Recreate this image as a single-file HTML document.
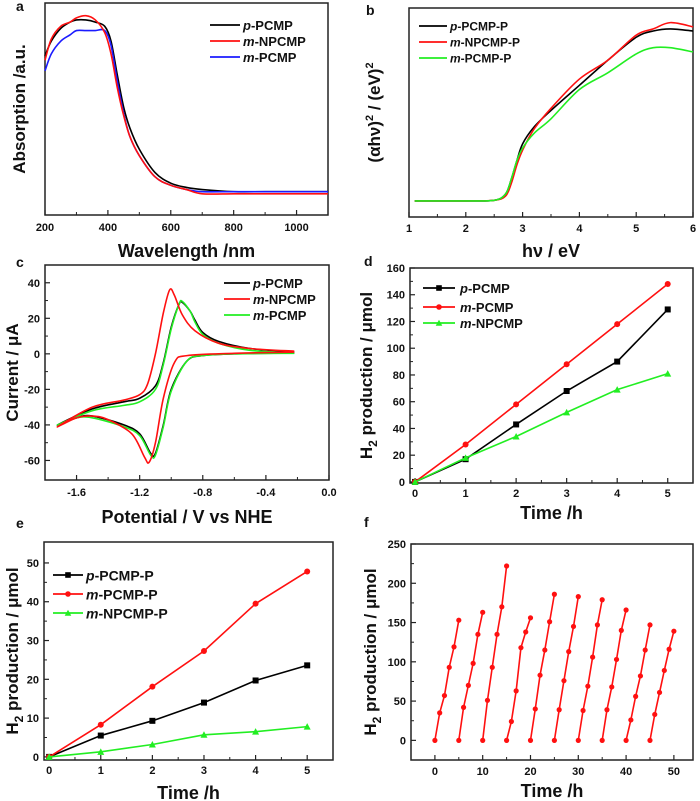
<!DOCTYPE html>
<html><head><meta charset="utf-8"><style>
body{margin:0;background:#fff;}
svg{display:block;font-family:"Liberation Sans",Arial,sans-serif;font-weight:bold;}
</style></head><body>
<svg id="fig" width="700" height="801" viewBox="0 0 700 801" xmlns="http://www.w3.org/2000/svg"></svg>
<script>
// ---- Panel a data
const aWave=[200,220,250,280,300,330,360,390,410,430,450,470,500,550,600,650,700,800,900,1000,1100];
const aBlack=[0.75,0.82,0.88,0.91,0.92,0.92,0.91,0.89,0.82,0.66,0.51,0.41,0.31,0.2,0.15,0.13,0.12,0.11,0.11,0.11,0.11];
const aRed=[0.73,0.83,0.89,0.91,0.93,0.94,0.92,0.86,0.76,0.6,0.47,0.37,0.28,0.18,0.14,0.12,0.1,0.1,0.1,0.1,0.1];
const aBlue=[0.68,0.76,0.82,0.85,0.87,0.87,0.87,0.87,0.8,0.63,0.48,0.37,0.28,0.18,0.14,0.12,0.11,0.11,0.11,0.11,0.11];
// ---- Panel b data
const bEnergy=[1.1,2.0,2.5,2.7,2.8,2.9,3.0,3.2,3.5,4.0,4.5,5.0,5.3,5.6,6.0];
const bBlack=[0.077,0.077,0.08,0.11,0.18,0.27,0.35,0.43,0.51,0.63,0.75,0.86,0.89,0.9,0.89];
const bRed=[0.077,0.077,0.08,0.1,0.16,0.25,0.32,0.42,0.52,0.66,0.75,0.87,0.9,0.93,0.91];
const bGreen=[0.077,0.077,0.08,0.11,0.18,0.27,0.33,0.4,0.47,0.61,0.69,0.78,0.81,0.81,0.79];
// ---- Panel c data (closed CV loops)
const cBlackV=[-0.22,-0.6,-0.8,-0.9,-1.0,-1.05,-1.1,-1.13,-1.2,-1.3,-1.5,-1.6,-1.72,-1.5,-1.3,-1.2,-1.1,-1.05,-1.0,-0.95,-0.93,-0.88,-0.85,-0.8,-0.7,-0.5,-0.22];
const cBlackI=[0.5,0,-1,-4,-20,-40,-56,-56,-45,-40,-35,-36,-40,-31,-27,-25,-18,-5,15,28,29,24,19,12,7,3,1];
const cGreenV=cBlackV;
const cGreenI=[0.3,0,-1,-4,-21,-41,-57,-57,-46,-41,-36,-36,-40,-32,-29,-27,-20,-6,14,28,29.5,24,18,11,6,2,0.5];
const cRedV=[-0.22,-0.6,-0.9,-0.98,-1.05,-1.1,-1.14,-1.17,-1.25,-1.4,-1.5,-1.6,-1.72,-1.5,-1.3,-1.2,-1.15,-1.1,-1.05,-1.01,-0.98,-0.93,-0.85,-0.7,-0.5,-0.22];
const cRedI=[1,0.3,-1,-5,-25,-50,-61,-58,-45,-37,-35,-36,-41,-30,-26,-23,-17,0,23,36,33,22,13,6,3,1.5];
// ---- Panel d data
const dTime=[0,1,2,3,4,5];
const dP=[0,17,43,68,90,129];
const dM=[0,28,58,88,118,148];
const dMN=[0,18,34,52,69,81];
// ---- Panel e data
const eTime=[0,1,2,3,4,5];
const eP=[0,5.5,9.3,14,19.7,23.6];
const eM=[0,8.3,18.1,27.3,39.5,47.8];
const eMN=[0,1.3,3.2,5.7,6.5,7.8];
// ---- Panel f data (10 cycles of 5 h)
const fCycleStart=[0,5,10,15,20,25,30,35,40,45];
const fCycles=[[0,35,57,93,119,153],[0,42,70,98,135,163],[0,51,93,135,170,222],[0,24,63,118,138,156],[0,40,83,115,151,186],[0,39,76,113,145,183],[0,38,69,106,147,179],[0,39,68,103,140,166],[0,26,56,82,115,147],[0,33,61,89,116,139]];

const NS="http://www.w3.org/2000/svg";
const svg=document.getElementById('fig');
function mk(tag,attrs,parent){const e=document.createElementNS(NS,tag);for(const k in attrs)e.setAttribute(k,attrs[k]);(parent||svg).appendChild(e);return e;}
function txt(s,x,y,size,anchor,parent){const t=mk('text',{x:x,y:y,'font-size':size,'text-anchor':anchor||'middle',fill:'#111'},parent);t.innerHTML=s;return t;}
function fmt(v){return (Math.round(v*10)/10).toString();}

function panel(o){
  const g=mk('g',{});
  
  
  const [L,T,R,B]=o.box;
  const X=v=>L+(v-o.x[0])/(o.x[1]-o.x[0])*(R-L);
  const Y=v=>B-(v-o.y[0])/(o.y[1]-o.y[0])*(B-T);
  const box=mk('rect',{x:L,y:T,width:R-L,height:B-T,fill:'none',stroke:'#222','stroke-width':1.5},g);
  
  
  if(o.xticks){o.xticks.forEach(v=>{mk('line',{x1:X(v),x2:X(v),y1:B,y2:B-5,stroke:'#222','stroke-width':1.2},g);
    const t=txt(o.xfmt?o.xfmt(v):fmt(v),X(v),o.xtly,11,'middle',g);
    
    });}
  if(o.xminor){o.xminor.forEach(v=>mk('line',{x1:X(v),x2:X(v),y1:B,y2:B-3,stroke:'#222'},g));}
  if(o.yticks){o.yticks.forEach(v=>{mk('line',{x1:L,x2:L+5,y1:Y(v),y2:Y(v),stroke:'#222','stroke-width':1.2},g);
    const t=txt(fmt(v),L-5,Y(v)+4,11,'end',g);
    
    });}
  if(o.yminor){o.yminor.forEach(v=>mk('line',{x1:L,x2:L+3,y1:Y(v),y2:Y(v),stroke:'#222'},g));}
  const xt=txt(o.xtitle,(L+R)/2,o.xtitleY,18,'middle',g);
  
  
  const yt=txt(o.ytitle,0,0,17,'middle',g);
  yt.setAttribute('transform',`translate(${o.ytitleX},${(T+B)/2}) rotate(-90)`);
  
  
  const lt=txt(o.letter,o.lx,o.ly,14,'start',g);
  
  
  return {g,X,Y};
}
function smoothPath(xs,ys,X,Y){
  const p=xs.map((x,i)=>[X(x),Y(ys[i])]);
  let d=`M${p[0][0]},${p[0][1]}`;
  for(let i=0;i<p.length-1;i++){
    const p0=p[i-1]||p[i],p1=p[i],p2=p[i+1],p3=p[i+2]||p2;
    const c1=[p1[0]+(p2[0]-p0[0])/6,p1[1]+(p2[1]-p0[1])/6];
    const c2=[p2[0]-(p3[0]-p1[0])/6,p2[1]-(p3[1]-p1[1])/6];
    d+=` C${c1[0]},${c1[1]} ${c2[0]},${c2[1]} ${p2[0]},${p2[1]}`;
  }
  return d;
}
function curve(P,xs,ys,color,name,smooth){
  const d=smooth?smoothPath(xs,ys,P.X,P.Y):'M'+xs.map((x,i)=>P.X(x)+','+P.Y(ys[i])).join(' L');
  const el=mk('path',{d:d,fill:'none',stroke:color,'stroke-width':1.6},P.g);
  
  
}
function marker(g,shape,x,y,color,r){
  let el;
  if(shape==='sq')el=mk('rect',{x:x-r,y:y-r,width:2*r,height:2*r,fill:color},g);
  else if(shape==='ci')el=mk('circle',{cx:x,cy:y,r:r,fill:color},g);
  else el=mk('polygon',{points:`${x},${y-r-0.5} ${x-r-0.5},${y+r} ${x+r+0.5},${y+r}`,fill:color},g);
  
  
}
function points(P,xs,ys,color,shape,name,r){
  curve(P,xs,ys,color,name,false);
  xs.forEach((x,i)=>marker(P.g,shape,P.X(x),P.Y(ys[i]),color,r||3));
}
function legend(g,x1,x2,tx,ys,items,size){
  items.forEach((it,i)=>{
    const y=ys[i];
    const le=mk('g',{},g);
    
    
    mk('line',{x1:x1,x2:x2,y1:y,y2:y,stroke:it.c,'stroke-width':1.8},le);
    if(it.m)marker(le,it.m,(x1+x2)/2,y,it.c,2.8);
    txt(it.t,tx,y+size*0.38,size,'start',le);
  });
}
const range=(a,b,s)=>{const r=[];for(let v=a;v<=b+1e-9;v+=s)r.push(Math.round(v*1000)/1000);return r;};

// Panel a
let P=panel({name:'panel-a-absorption',box:[45,3,328,215],x:[200,1100],y:[0,1],xticks:[200,400,600,800,1000],xminor:range(300,1100,200),xtly:231,
  xtitle:'Wavelength /nm',xtitleY:257,ytitle:'Absorption /a.u.',ytitleX:25,letter:'a',lx:16,ly:11});
curve(P,aWave,aBlack,'#000','series-p-pcmp',true);
curve(P,aWave,aBlue,'#1b1bff','series-m-pcmp',true);
curve(P,aWave,aRed,'#ff1010','series-m-npcmp',true);
legend(P.g,210,240,243,[25,41,57],[{t:'<tspan font-style="italic">p</tspan>-PCMP',c:'#000'},{t:'<tspan font-style="italic">m</tspan>-NPCMP',c:'#ff1010'},{t:'<tspan font-style="italic">m</tspan>-PCMP',c:'#1b1bff'}],13);

// Panel b
P=panel({name:'panel-b-tauc',box:[409,8,693,217],x:[1,6],y:[0,1],xticks:[1,2,3,4,5,6],xminor:range(1.5,5.5,1),xtly:232,
  xtitle:'hν / eV',xtitleY:257,ytitle:'(αhν)<tspan dy="-7" font-size="11">2</tspan><tspan dy="7"> / (eV)</tspan><tspan dy="-7" font-size="11">2</tspan>',ytitleX:380,letter:'b',lx:366,ly:15});
curve(P,bEnergy,bBlack,'#000','series-p-pcmp-p',true);
curve(P,bEnergy,bRed,'#ff1010','series-m-npcmp-p',true);
curve(P,bEnergy,bGreen,'#22ee22','series-m-pcmp-p',true);
legend(P.g,419,447,450,[26,42,58],[{t:'<tspan font-style="italic">p</tspan>-PCMP-P',c:'#000'},{t:'<tspan font-style="italic">m</tspan>-NPCMP-P',c:'#ff1010'},{t:'<tspan font-style="italic">m</tspan>-PCMP-P',c:'#22ee22'}],12);

// Panel c
P=panel({name:'panel-c-cv',box:[45,265,329,480],x:[-1.8,0],y:[-71,50],xticks:[-1.6,-1.2,-0.8,-0.4,0],xfmt:v=>v.toFixed(1),xminor:[-1.4,-1.0,-0.6,-0.2],xtly:496,
  yticks:[-60,-40,-20,0,20,40],yminor:[-50,-30,-10,10,30],
  xtitle:'Potential / V vs NHE',xtitleY:523,ytitle:'Current / μA',ytitleX:18,letter:'c',lx:16,ly:267});
curve(P,cBlackV,cBlackI,'#000','series-p-pcmp',true);
curve(P,cGreenV,cGreenI,'#22ee22','series-m-pcmp',true);
curve(P,cRedV,cRedI,'#ff1010','series-m-npcmp',true);
legend(P.g,224,250,253,[283,299,315],[{t:'<tspan font-style="italic">p</tspan>-PCMP',c:'#000'},{t:'<tspan font-style="italic">m</tspan>-NPCMP',c:'#ff1010'},{t:'<tspan font-style="italic">m</tspan>-PCMP',c:'#22ee22'}],13);

// Panel d
P=panel({name:'panel-d-h2',box:[410,268,693,483],x:[-0.1,5.5],y:[-0.8,160],xticks:[0,1,2,3,4,5],xminor:[0.5,1.5,2.5,3.5,4.5],xtly:497,
  yticks:range(0,160,20),yminor:range(10,150,20),
  xtitle:'Time /h',xtitleY:519,ytitle:'H<tspan dy="5" font-size="12">2</tspan><tspan dy="-5"> production / μmol</tspan>',ytitleX:372,letter:'d',lx:364,ly:266});
points(P,dTime,dP,'#000','sq','series-p-pcmp');
points(P,dTime,dM,'#ff1010','ci','series-m-pcmp');
points(P,dTime,dMN,'#22ee22','tr','series-m-npcmp');
legend(P.g,423,455,460,[288,307,323],[{t:'<tspan font-style="italic">p</tspan>-PCMP',c:'#000',m:'sq'},{t:'<tspan font-style="italic">m</tspan>-PCMP',c:'#ff1010',m:'ci'},{t:'<tspan font-style="italic">m</tspan>-NPCMP',c:'#22ee22',m:'tr'}],13);

// Panel e
P=panel({name:'panel-e-h2-p',box:[44,542,333,760],x:[-0.1,5.5],y:[-0.8,55.4],xticks:[0,1,2,3,4,5],xminor:[0.5,1.5,2.5,3.5,4.5],xtly:774,
  yticks:range(0,50,10),yminor:range(5,45,10),
  xtitle:'Time /h',xtitleY:799,ytitle:'H<tspan dy="5" font-size="12">2</tspan><tspan dy="-5"> production / μmol</tspan>',ytitleX:18,letter:'e',lx:16,ly:528});
points(P,eTime,eP,'#000','sq','series-p-pcmp-p');
points(P,eTime,eM,'#ff1010','ci','series-m-pcmp-p');
points(P,eTime,eMN,'#22ee22','tr','series-m-npcmp-p');
legend(P.g,53,83,86,[575,594,613],[{t:'<tspan font-style="italic">p</tspan>-PCMP-P',c:'#000',m:'sq'},{t:'<tspan font-style="italic">m</tspan>-PCMP-P',c:'#ff1010',m:'ci'},{t:'<tspan font-style="italic">m</tspan>-NPCMP-P',c:'#22ee22',m:'tr'}],14);

// Panel f
P=panel({name:'panel-f-cycles',box:[411,544,693,760],x:[-5,54],y:[-25,250],xticks:range(0,50,10),xminor:range(5,45,10),xtly:775,
  yticks:range(0,250,50),yminor:range(25,225,50),
  xtitle:'Time /h',xtitleY:797,ytitle:'H<tspan dy="5" font-size="12">2</tspan><tspan dy="-5"> production / μmol</tspan>',ytitleX:376,letter:'f',lx:364,ly:527});
fCycles.forEach((c,k)=>{
  const ts=c.map((_,i)=>fCycleStart[k]+i);
  points(P,ts,c,'#ff1010','ci','series-cycle-'+(k+1),2.6);
});
</script>
</body></html>
